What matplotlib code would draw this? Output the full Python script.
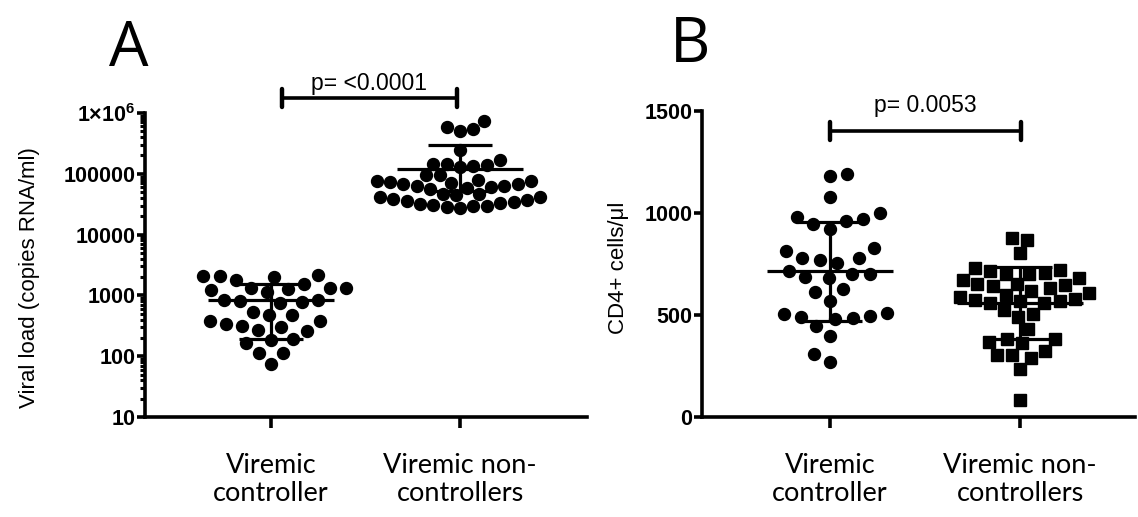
import numpy as np
import matplotlib
matplotlib.use("Agg")
import matplotlib.pyplot as plt

plt.rcParams['font.family'] = ['Liberation Sans', 'DejaVu Sans']
plt.rcParams['mathtext.fontset'] = 'custom'
plt.rcParams['mathtext.rm'] = 'Liberation Sans'
plt.rcParams['mathtext.bf'] = 'Liberation Sans:bold'

# ---------------- data ----------------
categories = ["Viremic\ncontroller", "Viremic non-\ncontrollers"]

vl_controller = [2085, 2010, 1560, 1770, 2085, 2140,
                 1340, 1210, 1140, 1290, 1340, 1340,
                 830, 760, 778, 800, 851,
                 470, 379, 343, 302, 314, 379, 470, 533,
                 256, 182, 167, 189, 273,
                 114, 114, 75]
vl_noncontroller = [738000, 552000, 506000, 589000, 243000,
                    166000, 147000, 134000, 129000, 139000, 147000, 94000, 94000,
                    78000, 75000, 72000, 68000, 64000, 60000, 57000, 59000,
                    63000, 67000, 71000, 76000,
                    47000, 44000, 41000, 38500, 36000, 34000, 32000, 30000,
                    28500, 27000, 29000, 31000, 33500, 37000, 41000, 46000]
vl_median = [830, 121000]
vl_upper = [1540, 294000]
vl_lower = [194, 52000]
vl_ticks = [10, 100, 1000, 10000, 100000, 1000000]
vl_ticklabels = ["10", "100", "1000", "10000", "100000", r"$\mathbf{1{\times}10^{6}}$"]
vl_p = "p= <0.0001"

cd4_controller = [1181, 1191, 1080, 978, 960, 924, 944, 973, 1001,
                  826, 815, 777, 772, 756, 779, 700, 684, 717, 679, 700,
                  627, 613, 569, 483, 507, 494, 491, 479, 510, 445, 397, 307, 270]
cd4_noncontroller = [878, 870, 802, 728, 717, 703, 703, 707, 723, 679, 671,
                     646, 630, 640, 650, 654, 620, 610, 600, 590, 573, 568,
                     559, 580, 523, 559, 568, 507, 491, 433, 381, 363, 368,
                     381, 303, 291, 303, 324, 237, 82]
cd4_median = [717, 559]
cd4_upper = [957, 736]
cd4_lower = [471, 381]
cd4_ticks = [0, 500, 1000, 1500]
cd4_ticklabels = ["0", "500", "1000", "1500"]
cd4_p = "p= 0.0053"

# ---------------- figure ----------------
W, H = 1138, 517
fig = plt.figure(figsize=(W / 100, H / 100), dpi=100)

axA = fig.add_axes([145 / W, 1 - 417 / H, (587 - 145) / W, (417 - 113) / H])
axB = fig.add_axes([702 / W, 1 - 417 / H, (1135 - 702) / W, (417 - 111) / H])

LW = 2.6
MS = 8.6


def swarm_offsets(ax, x0, values, d):
    pts = ax.transData.transform(np.column_stack([np.full(len(values), x0), values]))
    ypx = pts[:, 1]
    ppu = ax.transData.transform((1, 0))[0] - ax.transData.transform((0, 0))[0]
    order = np.argsort(ypx)
    placed = []
    offs = np.zeros(len(values))
    for k, i in enumerate(order):
        y = ypx[i]
        cands = [0.0]
        for (xp, yp) in placed:
            dy = y - yp
            if abs(dy) < d:
                dx = np.sqrt(d * d - dy * dy)
                cands += [xp + dx, xp - dx]
        sgn = 1 if k % 2 else -1
        cands = sorted(cands, key=lambda c: (round(abs(c), 3), sgn * c))
        for c in cands:
            ok = all((c - xp) ** 2 + (y - yp) ** 2 >= d * d - 1e-6 for (xp, yp) in placed)
            if ok:
                break
        placed.append((c, y))
        offs[i] = c
    return offs / ppu


def style_axes(ax, ticks, labels):
    for s in ['top', 'right']:
        ax.spines[s].set_visible(False)
    for s in ['left', 'bottom']:
        ax.spines[s].set_linewidth(LW)
    ax.tick_params(axis='y', which='major', length=6, width=LW, pad=1)
    ax.tick_params(axis='y', which='minor', length=3.5, width=LW * 0.85)
    ax.tick_params(axis='x', which='major', length=8, width=LW, pad=18)
    ax.set_yticks(ticks)
    ax.set_yticklabels(labels, fontweight='bold', fontsize=15.5)
    ax.set_xticks([0, 1])
    ax.set_xticklabels(categories, fontfamily='Lato', fontsize=19.5, linespacing=1.15)


def summary(ax, med, up, lo):
    for i in range(2):
        ax.hlines(med[i], i - 0.333, i + 0.333, color='black', lw=2.3, zorder=4)
        ax.vlines(i, lo[i], up[i], color='black', lw=2.3, zorder=4)
        ax.hlines([up[i], lo[i]], i - 0.17, i + 0.17, color='black', lw=2.3, zorder=4)


def pbar(ax, x1, x2, y, caph, text, dy_text):
    ax.plot([x1, x2], [y, y], color='black', lw=LW, clip_on=False, solid_capstyle='butt')
    inv = ax.transData.inverted()
    for xx in (x1, x2):
        p = ax.transData.transform((xx, y))
        a = inv.transform((p[0], p[1] - caph))
        b = inv.transform((p[0], p[1] + caph))
        ax.plot([xx, xx], [a[1], b[1]], color='black', lw=LW + 0.6, clip_on=False,
                solid_capstyle='round')
    ax.annotate(text, xy=((x1 + x2) / 2, y), xytext=(0, dy_text), textcoords='offset pixels',
                ha='center', va='baseline', fontsize=16.5, annotation_clip=False)


# ---------- Panel A ----------
axA.set_yscale('log')
axA.set_ylim(10, 1e6)
axA.set_xlim(-0.667, 1.672)
style_axes(axA, vl_ticks, vl_ticklabels)
axA.yaxis.set_minor_locator(matplotlib.ticker.LogLocator(base=10, subs=np.arange(2, 10)))
axA.yaxis.set_minor_formatter(matplotlib.ticker.NullFormatter())

for i, (vals, d) in enumerate([(vl_controller, 16.5), (vl_noncontroller, 13.5)]):
    off = swarm_offsets(axA, i, vals, d)
    axA.plot(i + off, vals, 'o', color='black', ms=MS, mec='black', clip_on=False, zorder=3)
summary(axA, vl_median, vl_upper, vl_lower)
pbar(axA, 0.058, 0.984, 1.75e6, 9, vl_p, 8)
axA.text(-0.262, 0.46, "Viral load (copies RNA/ml)", transform=axA.transAxes,
         rotation=90, ha='center', va='center', fontsize=16)

# ---------- Panel B ----------
axB.set_ylim(0, 1500)
axB.set_xlim(-0.674, 1.605)
style_axes(axB, cd4_ticks, cd4_ticklabels)

markers = ['o', 's']
for i, (vals, d) in enumerate([(cd4_controller, 17.5), (cd4_noncontroller, 15.5)]):
    off = swarm_offsets(axB, i, vals, d)
    axB.plot(i + off, vals, markers[i], color='black', ms=MS if i == 0 else MS * 0.95,
             mec='black', clip_on=False, zorder=3)
summary(axB, cd4_median, cd4_upper, cd4_lower)
pbar(axB, 0.0, 1.005, 1404, 9, cd4_p, 19)
axB.text(-0.192, 0.487, "CD4+ cells/\u03bcl", transform=axB.transAxes,
         rotation=90, ha='center', va='center', fontsize=16)

# panel letters
fig.text(129 / W, 1 - 66 / H, "A", fontfamily='Open Sans', fontsize=45,
         ha='center', va='baseline')
fig.text(690 / W, 1 - 62 / H, "B", fontfamily='Open Sans', fontsize=45,
         ha='center', va='baseline')

fig.savefig("out.png", dpi=100)
